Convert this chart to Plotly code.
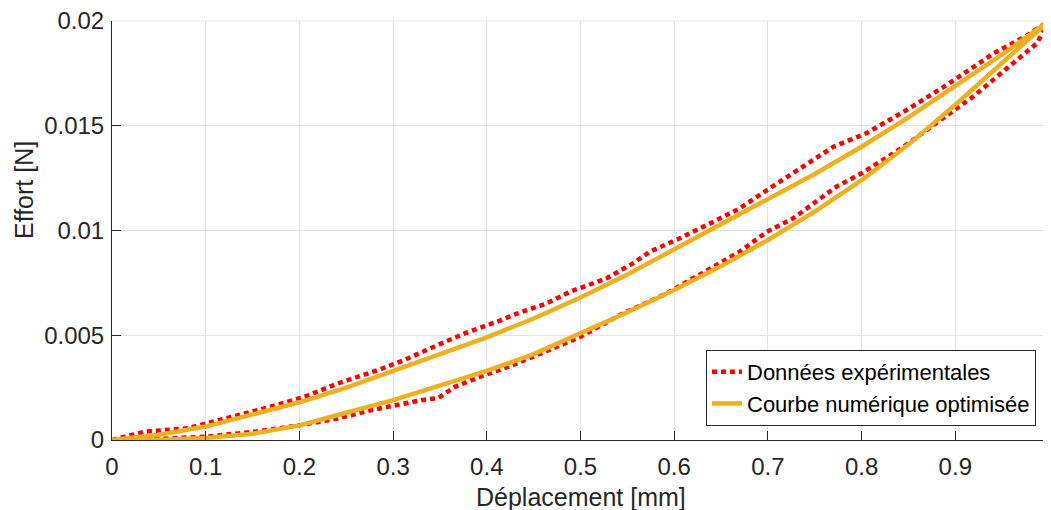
import plotly.graph_objects as go

# Experimental data: loading branch (0 -> 1) then unloading branch (1 -> 0)
exp_x = [0.0, 0.035, 0.081, 0.128, 0.17, 0.206, 0.241, 0.284, 0.312, 0.348, 0.377,
         0.416, 0.428, 0.464, 0.489, 0.528, 0.556, 0.574, 0.606, 0.642, 0.670,
         0.699, 0.727, 0.770, 0.805, 0.848, 0.891, 0.941, 0.976, 1.0,
         0.987, 0.962, 0.919, 0.877, 0.845, 0.8, 0.773, 0.727, 0.699, 0.670,
         0.635, 0.592, 0.542, 0.5, 0.471, 0.428, 0.393, 0.366, 0.348, 0.33,
         0.277, 0.241, 0.2, 0.153, 0.1, 0.05, 0.0]
exp_y = [0.0, 0.0004, 0.00056, 0.0011, 0.0016, 0.00207, 0.0027, 0.00334, 0.00382, 0.00454, 0.0051,
         0.00573, 0.00597, 0.00652, 0.00708, 0.00772, 0.00843, 0.00899, 0.00963, 0.01042, 0.01106,
         0.01193, 0.01273, 0.0140, 0.01464, 0.01575, 0.01695, 0.01846, 0.0193, 0.0200,
         0.01893, 0.01798, 0.01639, 0.01504, 0.0140, 0.01273, 0.01209, 0.01058, 0.00994, 0.00899,
         0.00811, 0.0070, 0.00597, 0.00493, 0.00438, 0.00358, 0.00302, 0.00254, 0.0020, 0.0019,
         0.00143, 0.00103, 0.0007, 0.0004, 0.00016, 0.00005, 0.0]

# Optimised numerical curve: upper branch then lower branch
num_x = [0.0, 0.05, 0.1, 0.15, 0.2, 0.25, 0.3, 0.35, 0.4, 0.45, 0.5, 0.55, 0.6,
         0.65, 0.7, 0.75, 0.8, 0.85, 0.9, 0.95, 1.0,
         0.95, 0.9, 0.85, 0.8, 0.75, 0.7, 0.65, 0.6, 0.55, 0.5, 0.45, 0.4,
         0.35, 0.3, 0.25, 0.2, 0.15, 0.1, 0.05, 0.0]
num_y = [0.0, 0.00025, 0.00064, 0.0012, 0.0018, 0.0025, 0.0033, 0.0041, 0.0049, 0.0058, 0.0068, 0.0079, 0.0091,
         0.0103, 0.0115, 0.0127, 0.0140, 0.0154, 0.0169, 0.0184, 0.0200,
         0.0180, 0.0160, 0.0141, 0.0124, 0.0109, 0.00955, 0.0083, 0.00716, 0.0061, 0.00509, 0.0041, 0.0033,
         0.0026, 0.0019, 0.0013, 0.0007, 0.0003, 0.0001, 0.0, 0.0]

x_ticks = [0, 0.1, 0.2, 0.3, 0.4, 0.5, 0.6, 0.7, 0.8, 0.9, 1]
x_ticklabels = ["0", "0.1", "0.2", "0.3", "0.4", "0.5", "0.6", "0.7", "0.8", "0.9", "1"]
y_ticks = [0, 0.005, 0.01, 0.015, 0.02]
y_ticklabels = ["0", "0.005", "0.01", "0.015", "0.02"]

x_title = "Déplacement [mm]"
y_title = "Effort [N]"

FONT = "Liberation Sans, Arial, Helvetica, sans-serif"
AX = "#262626"
GRID = "#e3e3e3"

# The page body has an 8px margin: figure sized so it fits the 1051x510 window
OFF = 8
W, H = 1051 - OFF, 510 - OFF
L, T = 112 - OFF, 21 - OFF
R = W - (1049 - OFF)
B = H - (440 - OFF)
PW, PH = W - L - R, H - T - B
AXIS_Y = 440 - OFF


def px_x(sx):
    return (sx - OFF - L) / PW


def px_y(sy):
    return (AXIS_Y - (sy - OFF)) / PH


fig = go.Figure()
fig.add_trace(go.Scatter(x=exp_x, y=exp_y, mode="lines", name="Données expérimentales",
                         line=dict(color="#FF0000", width=4.5, dash="5px,4px")))
fig.add_trace(go.Scatter(x=num_x, y=num_y, mode="lines", name="Courbe numérique optimisée",
                         line=dict(color="#EDB120", width=4.5)))

fig.update_layout(
    width=W, height=H,
    margin=dict(l=L, r=R, t=T, b=B, autoexpand=False),
    paper_bgcolor="white", plot_bgcolor="white",
    font=dict(family=FONT, color=AX, size=24),
    showlegend=True,
    legend=dict(x=px_x(1036), y=px_y(426), xanchor="right", yanchor="bottom",
                bgcolor="white", bordercolor="#262626", borderwidth=1,
                font=dict(size=22, color="black"), tracegroupgap=0,
                itemwidth=30),
    annotations=[
        dict(text=x_title, xref="paper", yref="paper", x=0.5, y=px_y(497),
             xanchor="center", yanchor="middle", showarrow=False,
             font=dict(size=25, color=AX)),
        dict(text=y_title, xref="paper", yref="paper", x=px_x(24), y=px_y(190),
             xanchor="center", yanchor="middle", showarrow=False, textangle=-90,
             font=dict(size=25, color=AX)),
    ],
    # grid lines along the top and right edges of the axes (not drawn by plotly at range ends)
    shapes=[
        dict(type="line", xref="paper", yref="paper", x0=0, x1=1, y0=1, y1=1,
             line=dict(color=GRID, width=1), layer="below"),
        dict(type="line", xref="paper", yref="paper", x0=1, x1=1, y0=0, y1=1,
             line=dict(color=GRID, width=1), layer="below"),
    ],
)
fig.update_xaxes(range=[0, 1], tickvals=x_ticks, ticktext=x_ticklabels, automargin=False,
                 showline=True, linecolor=AX, linewidth=1, mirror=False,
                 ticks="inside", ticklen=9, tickcolor=AX, ticklabelstandoff=5,
                 ticklabeloverflow="allow",
                 showgrid=True, gridcolor=GRID, gridwidth=1, zeroline=False)
fig.update_yaxes(range=[0, 0.02], tickvals=y_ticks, ticktext=y_ticklabels, automargin=False,
                 showline=True, linecolor=AX, linewidth=1, mirror=False,
                 ticks="inside", ticklen=9, tickcolor=AX, ticklabelstandoff=2,
                 ticklabeloverflow="allow",
                 showgrid=True, gridcolor=GRID, gridwidth=1, zeroline=False)

fig.write_html("out.html")
